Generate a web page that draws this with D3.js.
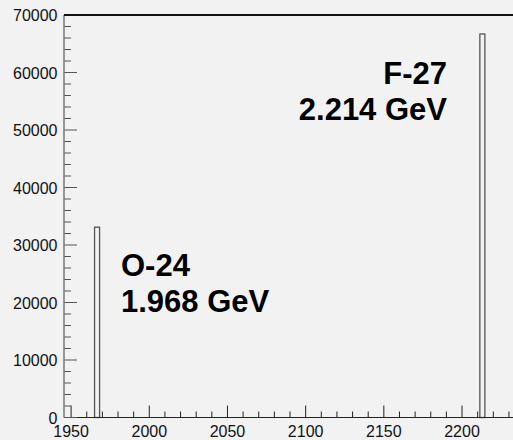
<!DOCTYPE html>
<html>
<head>
<meta charset="utf-8">
<script src="https://cdn.jsdelivr.net/npm/d3@7"></script>
<style>
  html, body { margin: 0; padding: 0; background: #f2f2f2; }
  svg { display: block; }
</style>
</head>
<body>
<script>
// Data
const binStarts = [1965.0, 2211.4];
const binEnds   = [1968.2, 2214.6];
const counts    = [33100, 66700];
const nuclei    = ["O-24", "F-27"];
const energies  = ["1.968 GeV", "2.214 GeV"];
const xTickValues = [1950, 2000, 2050, 2100, 2150, 2200];
const yTickValues = [0, 10000, 20000, 30000, 40000, 50000, 60000, 70000];

const W = 513, H = 440;
const svg = d3.select("body").append("svg").attr("width", W).attr("height", H);
svg.append("rect").attr("width", W).attr("height", H).attr("fill", "#f2f2f2");

const x = d3.scaleLinear().domain([1945.46, 2232.6]).range([64, 513]);
const y = d3.scaleLinear().domain([0, 70000]).range([417.5, 15]);

const font = "'Liberation Sans', Arial, Helvetica, sans-serif";

// Bars (histogram bins, outlined)
svg.selectAll("rect.bar").data(counts).enter().append("rect")
  .attr("class", "bar")
  .attr("x", (d, i) => x(binStarts[i]))
  .attr("width", (d, i) => x(binEnds[i]) - x(binStarts[i]))
  .attr("y", d => y(d))
  .attr("height", d => y(0) - y(d))
  .attr("fill", "none")
  .attr("stroke", "#555")
  .attr("stroke-width", 1.3);

// X axis minor ticks
const xMinor = d3.range(1950, 2231, 10);
const gx = svg.append("g");
gx.selectAll("line.minor").data(xMinor).enter().append("line")
  .attr("x1", d => x(d)).attr("x2", d => x(d))
  .attr("y1", y(0)).attr("y2", d => y(0) - (d % 50 === 0 ? 12 : 6))
  .attr("stroke", "#222").attr("stroke-width", 1);
gx.append("line").attr("x1", 64).attr("x2", 513).attr("y1", y(0)).attr("y2", y(0))
  .attr("stroke", "#222").attr("stroke-width", 1.2);
gx.selectAll("text").data(xTickValues).enter().append("text")
  .attr("x", d => x(d)).attr("y", 436.5)
  .attr("text-anchor", "middle")
  .attr("font-family", font).attr("font-size", 16).attr("fill", "#111")
  .text(d => d);

// Y axis
const yMinor = d3.range(0, 70001, 2000);
const gy = svg.append("g");
gy.selectAll("line.minor").data(yMinor).enter().append("line")
  .attr("x1", 64).attr("x2", d => 64 + (d % 10000 === 0 ? 13 : 7))
  .attr("y1", d => y(d)).attr("y2", d => y(d))
  .attr("stroke", "#555").attr("stroke-width", 1);
gy.append("line").attr("x1", 64).attr("x2", 64).attr("y1", y(70000)).attr("y2", y(0))
  .attr("stroke", "#777").attr("stroke-width", 1.5);
gy.selectAll("text").data(yTickValues).enter().append("text")
  .attr("x", 57.5).attr("y", d => y(d) + 6)
  .attr("text-anchor", "end")
  .attr("font-family", font).attr("font-size", 16).attr("fill", "#111")
  .text(d => d);

// Top frame line
svg.append("line").attr("x1", 64).attr("x2", 513).attr("y1", y(70000)).attr("y2", y(70000))
  .attr("stroke", "#111").attr("stroke-width", 2);

// Annotations
const ann = svg.append("g").attr("font-family", font).attr("font-weight", "bold")
  .attr("font-size", 31).attr("fill", "#000");
ann.append("text").attr("x", 121).attr("y", 276).attr("text-anchor", "start").text(nuclei[0]);
ann.append("text").attr("x", 121).attr("y", 312).attr("text-anchor", "start").text(energies[0]);
ann.append("text").attr("x", 447).attr("y", 84).attr("text-anchor", "end").text(nuclei[1]);
ann.append("text").attr("x", 447).attr("y", 120).attr("text-anchor", "end").text(energies[1]);
</script>
</body>
</html>
